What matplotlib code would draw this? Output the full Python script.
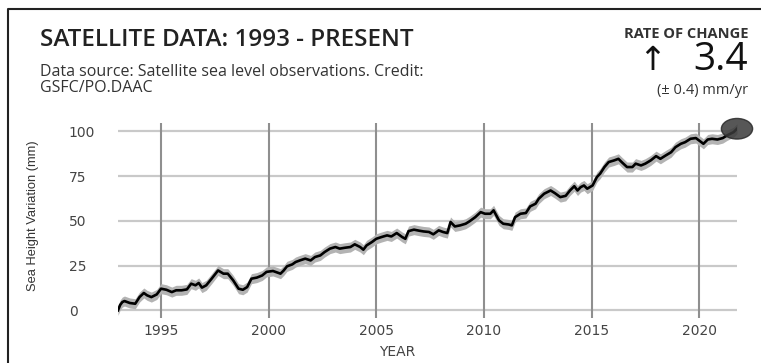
import matplotlib
matplotlib.use("Agg")
import matplotlib.pyplot as plt
from matplotlib.lines import Line2D
from matplotlib.patches import Ellipse
import numpy as np

# Satellite sea level record (mm, relative to 1993)
years = [1993.0, 1993.1, 1993.2, 1993.3, 1993.55, 1993.8, 1994.0, 1994.2, 1994.35, 1994.55,
         1994.8, 1995.0, 1995.25, 1995.5, 1995.7, 1995.95, 1996.2, 1996.4, 1996.6, 1996.75,
         1996.9, 1997.1, 1997.35, 1997.65, 1997.9, 1998.1, 1998.35, 1998.6, 1998.8, 1999.0,
         1999.2, 1999.45, 1999.7, 1999.9, 2000.2, 2000.55, 2000.7, 2000.85, 2001.1, 2001.25,
         2001.45, 2001.7, 2001.95, 2002.15, 2002.4, 2002.6, 2002.85, 2003.1, 2003.3, 2003.55,
         2003.8, 2004.0, 2004.25, 2004.4, 2004.55, 2004.8, 2005.0, 2005.25, 2005.5, 2005.7,
         2005.95, 2006.2, 2006.35, 2006.5, 2006.75, 2007.0, 2007.2, 2007.45, 2007.65, 2007.9,
         2008.1, 2008.3, 2008.45, 2008.65, 2008.9, 2009.15, 2009.35, 2009.6, 2009.85, 2010.05,
         2010.3, 2010.45, 2010.7, 2010.9, 2011.15, 2011.3, 2011.45, 2011.7, 2011.95, 2012.15,
         2012.4, 2012.55, 2012.8, 2013.1, 2013.3, 2013.55, 2013.8, 2014.0, 2014.2, 2014.35,
         2014.5, 2014.65, 2014.8, 2015.05, 2015.25, 2015.4, 2015.6, 2015.8, 2016.05, 2016.25,
         2016.4, 2016.65, 2016.9, 2017.05, 2017.3, 2017.5, 2017.75, 2018.0, 2018.2, 2018.45,
         2018.7, 2018.9, 2019.15, 2019.35, 2019.6, 2019.85, 2020.1, 2020.2, 2020.4, 2020.6,
         2020.85, 2021.1, 2021.3, 2021.6, 2021.76]
sea_height = [0.0, 3.0, 4.6, 5.2, 4.1, 3.7, 7.4, 9.7, 8.4, 7.4,
              8.9, 12.1, 11.5, 10.2, 11.2, 11.2, 11.7, 14.9, 14.0, 15.3,
              12.7, 14.0, 17.7, 22.3, 20.5, 20.5, 16.8, 12.1, 11.5, 13.0,
              17.7, 18.3, 19.5, 21.5, 22.0, 20.5, 22.3, 24.6, 25.7, 27.0,
              27.9, 28.9, 27.9, 29.8, 30.7, 32.6, 34.5, 35.4, 34.5, 35.0,
              35.4, 36.9, 35.4, 33.9, 36.3, 38.2, 40.0, 41.0, 41.9, 41.3,
              43.2, 41.0, 40.0, 44.3, 45.1, 44.5, 44.1, 43.8, 42.5, 44.7,
              43.8, 43.2, 49.4, 46.9, 47.5, 48.4, 49.9, 52.1, 54.9, 54.0,
              54.0, 55.9, 50.3, 48.4, 48.0, 47.5, 52.1, 54.0, 54.4, 58.1,
              59.6, 62.4, 65.2, 67.0, 65.5, 63.3, 64.0, 67.0, 69.4, 67.0,
              68.9, 69.8, 68.0, 69.8, 74.5, 76.4, 80.1, 82.9, 83.8, 84.7,
              82.9, 80.1, 80.1, 82.0, 81.0, 82.0, 83.8, 86.2, 84.7, 86.6,
              88.4, 91.2, 93.1, 94.0, 95.9, 96.3, 94.0, 93.1, 95.5, 95.9,
              95.5, 96.3, 97.8, 99.6, 101.5]
uncertainty = 2.8

x_ticks = [1995, 2000, 2005, 2010, 2015, 2020]
y_ticks = [0, 25, 50, 75, 100]

title = "SATELLITE DATA: 1993 - PRESENT"
source_line1 = "Data source: Satellite sea level observations. Credit:"
source_line2 = "GSFC/PO.DAAC"
rate_label = "RATE OF CHANGE"
rate_value = "3.4"
rate_unit = "(\u00b1 0.4) mm/yr"

W, H = 761, 363
fig = plt.figure(figsize=(W / 100, H / 100), dpi=100)
fig.patch.set_facecolor("white")

def fx(px):
    return px / W

def fy(py):
    return 1 - py / H

ax = fig.add_axes([fx(118), fy(317.5), fx(737) - fx(118), fy(122.5) - fy(317.5)])
ax.set_xlim(1993, 2021.76)
ax.set_ylim(-4, 105)

for s in ax.spines.values():
    s.set_visible(False)

ax.set_xticks(x_ticks)
ax.set_yticks(y_ticks)
ax.grid(False)
for yv in y_ticks:
    ax.axhline(yv, color="#c9c9c9", lw=1.6, zorder=0)
for xv in x_ticks:
    ax.axvline(xv, color="#8f8f8f", lw=1.5, zorder=0)

yr = np.array(years)
sh = np.array(sea_height)
ax.fill_between(yr, sh - uncertainty, sh + uncertainty, color="#b3b3b3", lw=0, zorder=2)
ax.plot(yr, sh, color="black", lw=1.9, zorder=3, solid_joinstyle="round")

ell = Ellipse((years[-1], sea_height[-1]), width=1.45, height=11.5,
              facecolor="#3a3a3a", edgecolor="#2a2a2a", alpha=0.85, zorder=4, clip_on=False)
ax.add_patch(ell)

tick_font = dict(family=["DejaVu Sans"], size=10, color="#444444")
ax.tick_params(axis="both", length=0)
ax.tick_params(axis="x", pad=4.5)
ax.tick_params(axis="y", pad=35.5)
for lab in ax.get_xticklabels():
    lab.set(**tick_font)
for lab in ax.get_yticklabels():
    lab.set(**tick_font)
    lab.set_horizontalalignment("left")

fig.text(fx(397), fy(352), "YEAR", ha="center", va="center",
         fontsize=10, color="#444444", family=["DejaVu Sans"])
fig.text(fx(33), fy(216), "Sea Height Variation (mm)", rotation=90, ha="center", va="center",
         fontsize=9.3, color="#333333", family=["Liberation Sans", "DejaVu Sans"])

fig.text(fx(40), fy(40), title, ha="left", va="center", fontsize=17.5,
         fontweight="semibold", color="#222222", family=["Open Sans", "DejaVu Sans"])
fig.text(fx(40), fy(72), source_line1, ha="left", va="center", fontsize=11.5,
         color="#333333", family=["Open Sans", "DejaVu Sans"])
fig.text(fx(40), fy(88), source_line2, ha="left", va="center", fontsize=11.5,
         color="#333333", family=["Open Sans", "DejaVu Sans"])

fig.text(fx(748), fy(34), rate_label, ha="right", va="center", fontsize=10.5,
         fontweight="bold", color="#333333", family=["Open Sans", "DejaVu Sans"])
fig.text(fx(748), fy(60), rate_value, ha="right", va="center", fontsize=28,
         color="#111111", family=["Open Sans", "DejaVu Sans"])
fig.text(fx(666), fy(61), "\u2191", ha="right", va="center", fontsize=24,
         color="#111111", family=["DejaVu Sans"])
fig.text(fx(748), fy(91), rate_unit, ha="right", va="center", fontsize=10.5,
         color="#333333", family=["Open Sans", "DejaVu Sans"])

# card border along the top and left edges
fig.add_artist(Line2D([fx(8), fx(8), 1.0], [0.0, fy(9), fy(9)], color="#222222", lw=1.5))

fig.savefig("out.png", dpi=100, facecolor="white")
